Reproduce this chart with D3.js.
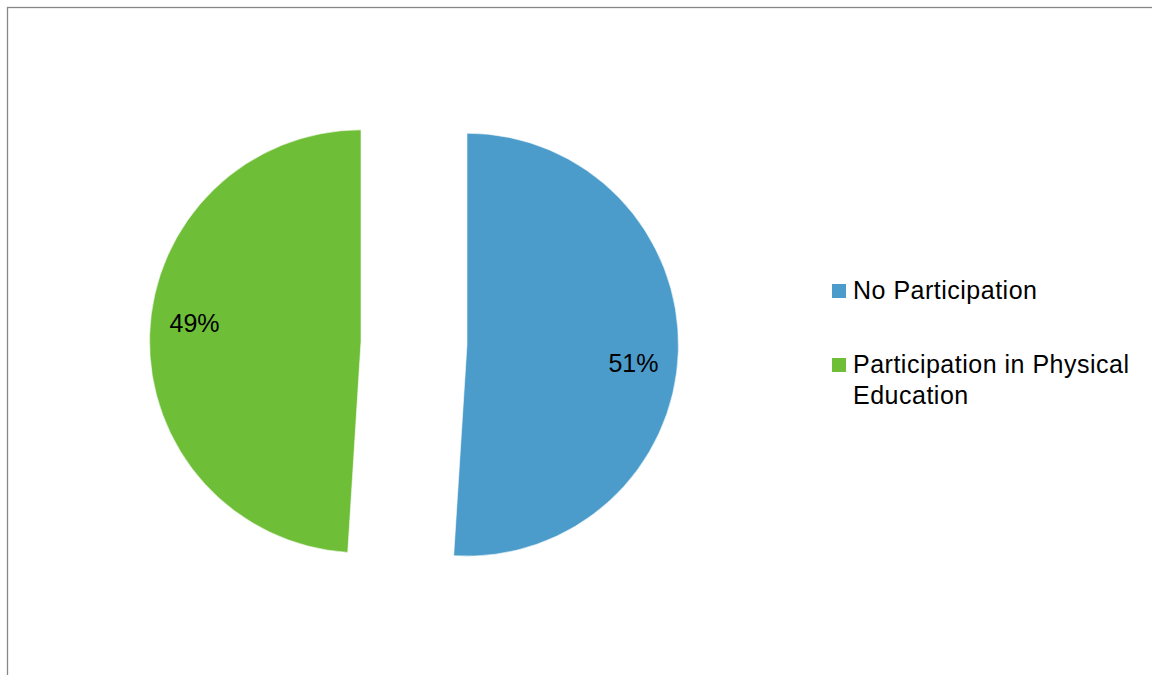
<!DOCTYPE html>
<html>
<head>
<meta charset="utf-8">
<script src="https://cdn.jsdelivr.net/npm/d3@7"></script>
<style>
  html, body { margin: 0; padding: 0; background: #fff; }
  svg { display: block; }
  text { font-family: "Liberation Sans", Arial, sans-serif; fill: #000; }
</style>
</head>
<body>
<svg id="chart" width="1152" height="675"></svg>
<script>
// Survey split: share of pupils taking part in physical education
const categories = ["No Participation", "Participation in Physical Education"];
const values = [51, 49];
const labels = ["51%", "49%"];
const legendLines = [["No Participation"], ["Participation in Physical", "Education"]];
const colors = ["#4B9CCB", "#6EBE38"];

const W = 1152, H = 675;
const svg = d3.select("#chart");

// chart-area frame
svg.append("rect")
  .attr("x", 7.5).attr("y", 7.5)
  .attr("width", W).attr("height", H)
  .attr("fill", "none")
  .attr("stroke", "#878787")
  .attr("stroke-width", 1.3);

const cx = 414, cy = 343, radius = 211.5, explode = 53;

const pie = d3.pie().sort(null).value(d => d)(values);
const arc = d3.arc().innerRadius(0).outerRadius(radius);

const g = svg.append("g").attr("transform", `translate(${cx},${cy})`);

const slices = g.selectAll("g.slice")
  .data(pie)
  .join("g")
  .attr("class", "slice")
  .attr("transform", d => {
    const a = (d.startAngle + d.endAngle) / 2;
    return `translate(${explode * Math.sin(a)},${-explode * Math.cos(a)})`;
  });

slices.append("path")
  .attr("d", arc)
  .attr("fill", (d, i) => colors[i])
  .attr("stroke", "#fff")
  .attr("stroke-width", 0.6);

// percentage labels placed near the outer end of each slice
const labelRadius = radius * 0.792;
const labelShift = 4.6 * Math.PI / 180;
slices.append("text")
  .attr("text-anchor", "middle")
  .attr("dy", "0.36em")
  .attr("font-size", 25)
  .attr("x", d => labelRadius * Math.sin((d.startAngle + d.endAngle) / 2 + labelShift))
  .attr("y", d => -labelRadius * Math.cos((d.startAngle + d.endAngle) / 2 + labelShift))
  .text((d, i) => labels[i]);

// legend
const legendX = 832, legendTop = 299, itemGap = 74, lineH = 31.4;
const legend = svg.append("g");
categories.forEach((c, i) => {
  const y = legendTop + i * itemGap;
  legend.append("rect")
    .attr("x", legendX).attr("y", y - 15)
    .attr("width", 14).attr("height", 14)
    .attr("fill", colors[i]);
  const t = legend.append("text")
    .attr("x", legendX + 21).attr("y", y)
    .attr("font-size", 25)
    .attr("letter-spacing", 0.5);
  legendLines[i].forEach((line, j) => {
    t.append("tspan")
      .attr("x", legendX + 21)
      .attr("y", y + j * lineH)
      .text(line);
  });
});
</script>
</body>
</html>
